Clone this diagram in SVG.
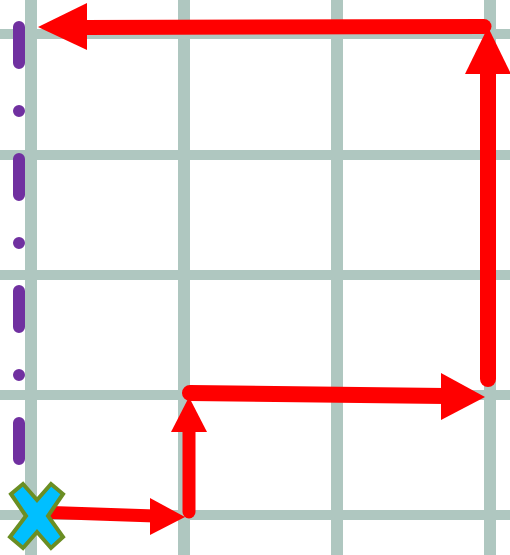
<svg xmlns="http://www.w3.org/2000/svg" width="510" height="555" viewBox="0 0 510 555">
  <style>
    .grid line { stroke: #afc7c0; }
    .gv { stroke-width: 12; }
    .gh { stroke-width: 10; }
    .shaft { stroke: #ff0000; fill: none; stroke-linecap: round; }
    .head { fill: #ff0000; }
    .axis { stroke: #7030a0; stroke-width: 12; stroke-linecap: round; stroke-dasharray: 36 48 0 48; fill: none; }
    .mark { fill: #00bfff; stroke: #6b8e23; stroke-width: 4; stroke-linejoin: miter; }
  </style>
  <rect width="510" height="555" fill="#ffffff"/>
  <g id="grid" class="grid">
    <line class="gh" x1="0" y1="34" x2="510" y2="34"/>
    <line class="gh" x1="0" y1="155" x2="510" y2="155"/>
    <line class="gh" x1="0" y1="275" x2="510" y2="275"/>
    <line class="gh" x1="0" y1="395" x2="510" y2="395"/>
    <line class="gh" x1="0" y1="515" x2="510" y2="515"/>
    <line class="gv" x1="31" y1="0" x2="31" y2="555"/>
    <line class="gv" x1="184" y1="0" x2="184" y2="555"/>
    <line class="gv" x1="337" y1="0" x2="337" y2="555"/>
    <line class="gv" x1="490" y1="0" x2="490" y2="555"/>
  </g>
  <g id="axis">
    <line class="axis" x1="19" y1="27" x2="19" y2="459"/>
  </g>
  <g id="connectors">
    <path class="shaft" d="M37 512 L155 516" stroke-width="13"/>
    <polygon class="head" points="185,517 150,498 150,535"/>
    <path class="shaft" d="M189 512 L189 430" stroke-width="13"/>
    <polygon class="head" points="189,397 171,432 207,432"/>
    <path class="shaft" d="M190 393 L445 396" stroke-width="16"/>
    <polygon class="head" points="485,397 441,373 441,420"/>
    <path class="shaft" d="M488 379 L488 70" stroke-width="16"/>
    <polygon class="head" points="488,27 465,74 511,74"/>
    <path class="shaft" d="M484 26.5 L85 27.5" stroke-width="15"/>
    <polygon class="head" points="38,27 87,3 87,50"/>
  </g>
  <g id="start">
    <polygon class="mark" transform="translate(37,516)" points="-26,-22 -14,-32 0,-16 14,-32 26,-22 11,0 26,21 14,32 0,16 -14,32 -27,21 -11,0"/>
  </g>
</svg>
